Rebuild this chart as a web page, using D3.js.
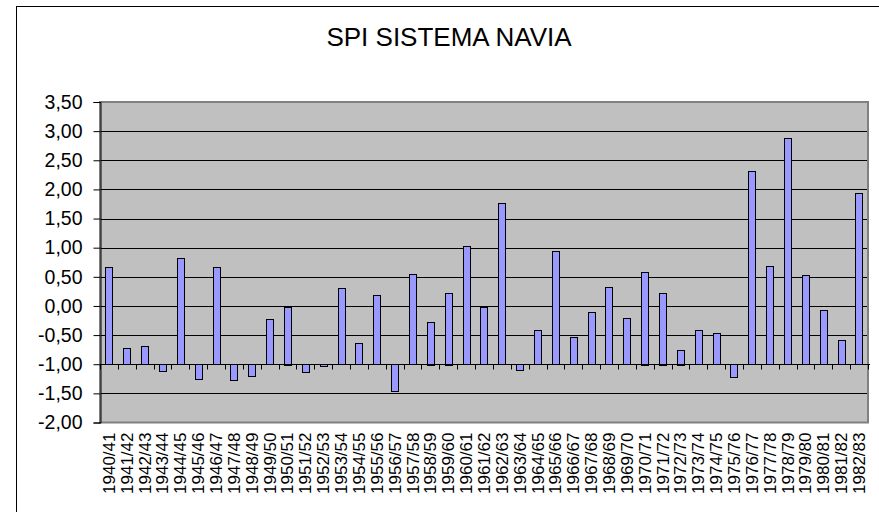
<!DOCTYPE html>
<html>
<head>
<meta charset="utf-8">
<script src="https://cdn.jsdelivr.net/npm/d3@7"></script>
<style>
  body { margin: 0; background: #fff; }
  svg { display: block; font-family: "Liberation Sans", Arial, sans-serif; }
</style>
</head>
<body>
<div id="chart"></div>
<script>
const seasons = ['1940/41','1941/42','1942/43','1943/44','1944/45','1945/46','1946/47','1947/48','1948/49','1949/50',
  '1950/51','1951/52','1952/53','1953/54','1954/55','1955/56','1956/57','1957/58','1958/59','1959/60',
  '1960/61','1961/62','1962/63','1963/64','1964/65','1965/66','1966/67','1967/68','1968/69','1969/70',
  '1970/71','1971/72','1972/73','1973/74','1974/75','1975/76','1976/77','1977/78','1978/79','1979/80',
  '1980/81','1981/82','1982/83'];
const spi = [0.66,-0.73,-0.69,-1.12,0.82,-1.26,0.66,-1.28,-1.21,-0.23,
  -0.01,-1.14,-1.03,0.30,-0.64,0.18,-1.46,0.55,-0.27,0.23,
  1.03,-0.02,1.76,-1.10,-0.41,0.94,-0.53,-0.11,0.32,-0.21,
  0.59,0.23,-0.75,-0.41,-0.46,-1.23,2.31,0.69,2.88,0.53,
  -0.07,-0.59,1.94];
const yTicks = [-2,-1.5,-1,-0.5,0,0.5,1,1.5,2,2.5,3,3.5];
const baseline = -1;
const title = 'SPI SISTEMA NAVIA';

const width = 879, height = 512;
const plot = { left: 100, right: 868, top: 102, bottom: 422.5 };

const svg = d3.select('#chart').append('svg')
  .attr('width', width)
  .attr('height', height);

// outer chart frame
svg.append('rect')
  .attr('x', 16.5).attr('y', 6.5)
  .attr('width', 900).attr('height', 600)
  .attr('fill', '#fff')
  .attr('stroke', '#000')
  .attr('stroke-width', 1);

svg.append('text')
  .attr('x', 449).attr('y', 46)
  .attr('text-anchor', 'middle')
  .attr('font-size', 26)
  .text(title);

const x = d3.scaleBand()
  .domain(seasons)
  .range([plot.left, plot.right])
  .paddingInner(0);

const y = d3.scaleLinear()
  .domain([-2, 3.5])
  .range([plot.bottom, plot.top]);

// plot area
svg.append('rect')
  .attr('x', plot.left).attr('y', plot.top)
  .attr('width', plot.right - plot.left)
  .attr('height', plot.bottom - plot.top)
  .attr('fill', '#c0c0c0');

// gridlines
svg.append('g')
  .selectAll('line')
  .data(yTicks.filter(t => t > -2 && t < 3.5))
  .enter().append('line')
  .attr('x1', plot.left).attr('x2', plot.right)
  .attr('y1', d => Math.round(y(d)) + 0.5)
  .attr('y2', d => Math.round(y(d)) + 0.5)
  .attr('stroke', '#000')
  .attr('stroke-width', 1);

// plot border
svg.append('rect')
  .attr('x', plot.left).attr('y', plot.top)
  .attr('width', plot.right - plot.left)
  .attr('height', plot.bottom - plot.top)
  .attr('fill', 'none')
  .attr('stroke', '#808080')
  .attr('stroke-width', 2);

// bars from the -1 baseline
const bw = x.bandwidth() * 0.4;
svg.append('g')
  .selectAll('rect')
  .data(spi)
  .enter().append('rect')
  .attr('x', (d, i) => Math.round(x(seasons[i]) + (x.bandwidth() - bw) / 2) + 0.5)
  .attr('y', d => Math.round(y(Math.max(d, baseline))) + 0.5)
  .attr('width', Math.round(bw))
  .attr('height', d => Math.max(1, Math.round(Math.abs(y(d) - y(baseline)))))
  .attr('fill', '#9999ff')
  .attr('stroke', '#000')
  .attr('stroke-width', 1);

// category axis crossing at -1
const y0 = Math.round(y(baseline)) + 0.5;
svg.append('line')
  .attr('x1', plot.left).attr('x2', plot.right + 2)
  .attr('y1', y0).attr('y2', y0)
  .attr('stroke', '#000');
svg.append('g')
  .selectAll('line')
  .data(seasons.concat(['end']))
  .enter().append('line')
  .attr('x1', d => Math.round(d === 'end' ? plot.right : x(d)) + 0.5)
  .attr('x2', d => Math.round(d === 'end' ? plot.right : x(d)) + 0.5)
  .attr('y1', y0).attr('y2', y0 + 5)
  .attr('stroke', '#000');

// value axis
const yAxis = d3.axisLeft(y)
  .tickValues(yTicks)
  .tickSize(7)
  .tickPadding(11)
  .tickFormat(d => d.toFixed(2).replace('.', ','));
const gy = svg.append('g')
  .attr('transform', `translate(${plot.left + 0.5},0)`)
  .call(yAxis);
gy.selectAll('text').attr('font-size', 19.5).attr('fill', '#000').attr('font-family', '"Liberation Sans", Arial, sans-serif');
gy.selectAll('line').attr('stroke', '#000');
gy.select('.domain').attr('stroke', '#000');

// category labels under the plot
const xAxis = d3.axisBottom(x).tickSize(0).tickPadding(0);
const gx = svg.append('g')
  .attr('transform', `translate(0,${plot.bottom})`)
  .call(xAxis);
gx.select('.domain').remove();
gx.selectAll('text')
  .attr('font-size', 17)
  .attr('font-family', '"Liberation Sans", Arial, sans-serif')
  .attr('fill', '#000')
  .attr('text-anchor', 'end')
  .attr('dy', '0.35em')
  .attr('transform', 'translate(0,10) rotate(-90)')
  .attr('x', 0).attr('y', 0);
</script>
</body>
</html>
